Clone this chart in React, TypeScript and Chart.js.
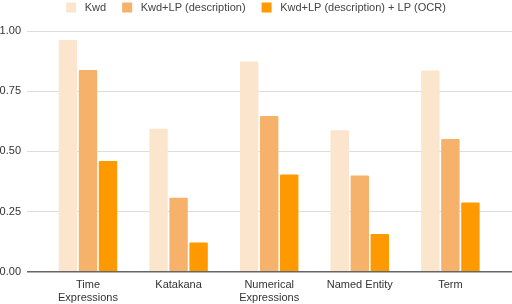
import React, { useEffect, useRef } from "react";
import { Chart, registerables } from "chart.js";

Chart.register(...registerables);

const categories: string[][] = [
  ["Time", "Expressions"],
  ["Katakana"],
  ["Numerical", "Expressions"],
  ["Named Entity"],
  ["Term"],
];
const seriesNames = ["Kwd", "Kwd+LP (description)", "Kwd+LP (description) + LP (OCR)"];
const kwd = [0.963, 0.594, 0.873, 0.588, 0.836];
const kwdLp = [0.838, 0.307, 0.647, 0.4, 0.551];
const kwdLpOcr = [0.46, 0.121, 0.404, 0.157, 0.288];
const seriesColors = ["#FCE5CD", "#F6B26B", "#FF9900"];
const yTicks = [0, 0.25, 0.5, 0.75, 1.0];

const FONT = "'Liberation Sans', Arial, sans-serif";
const LEGEND_EXTRA = 8;

const legendSpacer = {
  id: "legendSpacer",
  beforeLayout(chart: any) {
    const lg: any = chart.legend;
    if (lg && !lg._spacerPatched) {
      const orig = lg.fit.bind(lg);
      lg.fit = function () {
        orig();
        this.height += LEGEND_EXTRA;
      };
      lg._spacerPatched = true;
    }
  },
};

export default function App() {
  const ref = useRef<HTMLCanvasElement | null>(null);
  useEffect(() => {
    if (!ref.current) return;
    const series = [kwd, kwdLp, kwdLpOcr];
    const chart = new Chart(ref.current, {
      type: "bar",
      plugins: [legendSpacer],
      data: {
        datasets: series.map((vals, si) => ({
          label: seriesNames[si],
          data: vals.map((v, i) => ({ x: i, y: v })),
          backgroundColor: seriesColors[si],
          borderWidth: 0,
          borderRadius: 1,
          categoryPercentage: 0.663,
          barPercentage: 0.92,
        })),
      },
      options: {
        responsive: false,
        animation: false,
        events: [],
        layout: { padding: { top: -14, left: 0, right: 0, bottom: -7 } },
        plugins: {
          tooltip: { enabled: false },
          legend: {
            position: "top",
            align: "center",
            labels: {
              boxWidth: 10,
              boxHeight: 10,
              padding: 16,
              color: "#444",
              font: { family: FONT, size: 11 },
              generateLabels: (c: any) =>
                Chart.defaults.plugins.legend.labels
                  .generateLabels(c)
                  .map((l: any) => ({ ...l, text: " " + l.text })),
            },
          },
        },
        scales: {
          x: {
            type: "linear",
            min: -0.673,
            max: 4.68,
            offset: false,
            grid: { display: false, offset: false, drawTicks: false },
            border: { display: false },
            afterBuildTicks: (scale: any) => {
              scale.ticks = categories.map((_, i) => ({ value: i }));
            },
            ticks: {
              autoSkip: false,
              maxRotation: 0,
              padding: 7,
              color: "#333",
              font: { family: FONT, size: 11, lineHeight: 1.15 },
              callback: (v: any) => categories[Number(v)] ?? "",
            },
          },
          y: {
            min: 0,
            max: 1,
            afterBuildTicks: (scale: any) => {
              scale.ticks = yTicks.map((v) => ({ value: v }));
            },
            afterFit: (scale: any) => {
              scale.width = 27;
            },
            grid: {
              drawTicks: false,
              color: (ctx: any) => (ctx.tick && ctx.tick.value === 0 ? "#666" : "#DDDDDD"),
              lineWidth: (ctx: any) => (ctx.tick && ctx.tick.value === 0 ? 1.5 : 1),
            },
            border: { display: false },
            ticks: {
              padding: 6,
              color: "#333",
              font: { family: FONT, size: 11 },
              callback: (v: any) => Number(v).toFixed(2),
            },
          },
        },
      },
    } as any);
    return () => chart.destroy();
  }, []);
  return (
    <div style={{ position: "fixed", left: 0, top: 0, width: 512, height: 304, background: "#fff" }}>
      <canvas ref={ref} width={512} height={304} style={{ width: 512, height: 304 }} />
    </div>
  );
}
